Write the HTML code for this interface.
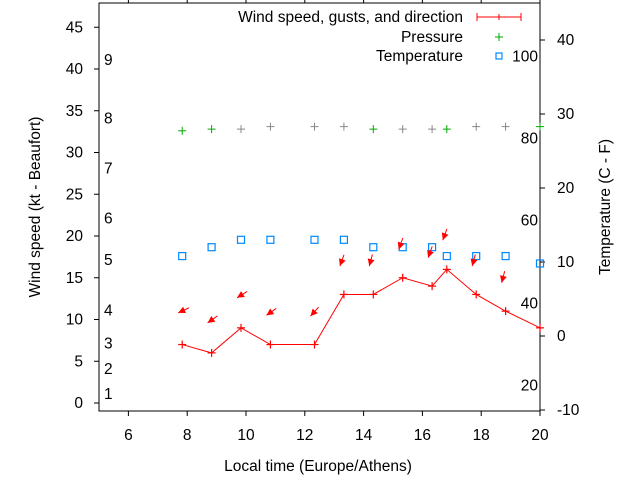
<!DOCTYPE html>
<html><head><meta charset="utf-8"><style>
body{margin:0;background:#fff}
svg text{font-family:"Liberation Sans",sans-serif;font-size:15.5px;fill:#000}
</style></head><body>
<svg id="c" width="640" height="480" xmlns="http://www.w3.org/2000/svg"></svg>
<script>
const times=[7.83,8.83,9.83,10.83,12.33,13.33,14.33,15.33,16.33,16.83,17.83,18.83,20];
const wind=[7,6,9,7,7,13,13,15,14,16,13,11,9];
const gust=[10.8,9.6,12.6,10.5,10.4,16.4,16.4,18.4,17.4,19.5,16.4,14.4,null];
const dir=[65,55,58,55,42,20,15,20,20,20,15,15,null];
const pressure=[32.6,32.8,32.8,33.1,33.1,33.1,32.8,32.8,32.8,32.8,33.1,33.1,33.1];
const pressColor=['#0a0','#0a0','#888','#888','#888','#888','#0a0','#888','#888','#0a0','#888','#888','#0a0'];
const temp=[10.8,12,13,13,13,13,12,12,12,10.8,10.8,10.8,9.8];
const xTicks=[6,8,10,12,14,16,18,20];
const yTicks=[0,5,10,15,20,25,30,35,40,45];
const y2Ticks=[-10,0,10,20,30,40];
const beaufort=[[1,1.1],[2,4.1],[3,7.1],[4,11.1],[5,17.1],[6,22.1],[7,28.1],[8,34.1],[9,41.1]];
const fahr=[[20,-6.7],[40,4.4],[60,15.6],[80,26.7],[100,37.8]];

const L=99,R=540,T=3,B=411;
const X=v=>L+(v-5)*(R-L)/15;
const Y=v=>403-v*8.35;
const Y2=v=>336-v*7.4;
const svg=document.getElementById('c');
const NS='http://www.w3.org/2000/svg';
function mk(tag,at,par){const e=document.createElementNS(NS,tag);for(const k in at)e.setAttribute(k,at[k]);(par||svg).appendChild(e);return e;}
function txt(s,x,y,anchor,extra){const t=mk('text',Object.assign({x:x,y:y,'text-anchor':anchor||'start'},extra||{}));t.textContent=s;return t;}

let e=mk('rect',{x:L,y:T,width:R-L,height:B-T,fill:'none',stroke:'#000','stroke-width':1});



xTicks.forEach(v=>{
  mk('line',{x1:X(v),y1:B,x2:X(v),y2:B+5,stroke:'#000'});
  mk('line',{x1:X(v),y1:T,x2:X(v),y2:T-4,stroke:'#000'});
  const t=txt(String(v),X(v),440,'middle');
  
  
});
yTicks.forEach(v=>{
  mk('line',{x1:L,y1:Y(v),x2:L-5,y2:Y(v),stroke:'#000'});
  const t=txt(String(v),83,Y(v)+5,'end');
  
  
});
y2Ticks.forEach(v=>{
  mk('line',{x1:R,y1:Y2(v),x2:R+5,y2:Y2(v),stroke:'#000'});
  const t=txt(String(v),557,Y2(v)+5,'start');
  
  
});
beaufort.forEach(b=>{
  const t=txt(String(b[0]),104,Y(b[1])+5,'start');
  
  
});
fahr.forEach(f=>{
  const t=txt(String(f[0]),538,Y2(f[1])+5,'end');
  
  
});

e=txt('Local time (Europe/Athens)',318,471,'middle');


e=txt('Wind speed (kt - Beaufort)',0,0,'middle',{transform:'translate(40,207) rotate(-90)'});


e=txt('Temperature (C - F)',0,0,'middle',{transform:'translate(610,207) rotate(-90)'});



times.forEach((t,i)=>{
  const g=mk('g',{stroke:pressColor[i],'stroke-width':1});
  
  
  const x=X(t),y=Y(pressure[i]);
  mk('line',{x1:x-4,y1:y,x2:x+4,y2:y},g);mk('line',{x1:x,y1:y-4,x2:x,y2:y+4},g);
});
times.forEach((t,i)=>{
  const r=mk('rect',{x:X(t)-3.5,y:Y2(temp[i])-3.5,width:7,height:7,fill:'none',stroke:'#08f','stroke-width':1.2});
  
  
});
const pl=mk('polyline',{points:times.map((t,i)=>X(t)+','+Y(wind[i])).join(' '),fill:'none',stroke:'#f00','stroke-width':1});


times.forEach((t,i)=>{
  const g=mk('g',{stroke:'#f00','stroke-width':1.2});
  
  
  const x=X(t),y=Y(wind[i]);
  mk('line',{x1:x-4,y1:y,x2:x+4,y2:y},g);mk('line',{x1:x,y1:y-4,x2:x,y2:y+4},g);
});
times.forEach((t,i)=>{
  if(gust[i]==null)return;
  const hx=X(t)-4,hy=Y(gust[i]);
  const a=dir[i]*Math.PI/180;
  const ux=Math.sin(a),uy=-Math.cos(a);
  const tx=hx+ux*12,ty=hy+uy*12;
  const g=mk('g',{});
  
  
  mk('line',{x1:tx,y1:ty,x2:hx,y2:hy,stroke:'#f00','stroke-width':1},g);
  const px=-uy,py=ux;
  const bx=hx+ux*7,by=hy+uy*7;
  mk('polygon',{points:`${hx},${hy} ${bx+px*3.5},${by+py*3.5} ${bx-px*3.5},${by-py*3.5}`,fill:'#f00'},g);
});
e=txt('Wind speed, gusts, and direction',463,22,'end');


let lg=mk('g',{stroke:'#f00'});


mk('line',{x1:477,y1:17,x2:521,y2:17},lg);mk('line',{x1:477,y1:13,x2:477,y2:21},lg);mk('line',{x1:521,y1:13,x2:521,y2:21},lg);mk('line',{x1:499,y1:14,x2:499,y2:20},lg);
e=txt('Pressure',463,42,'end');


lg=mk('g',{stroke:'#0a0'});


mk('line',{x1:495,y1:37,x2:503,y2:37},lg);mk('line',{x1:499,y1:33,x2:499,y2:41},lg);
e=txt('Temperature',463,61,'end');


e=mk('rect',{x:496,y:53,width:6,height:6,fill:'none',stroke:'#08f','stroke-width':1.2});


</script>
</body></html>
